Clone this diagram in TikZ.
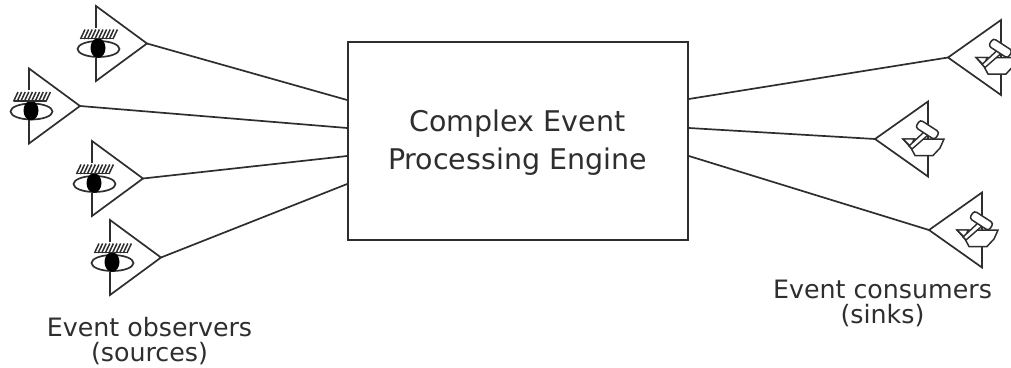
\documentclass[tikz,border=0pt]{standalone}
\usepackage{fontspec}
\setmainfont{DejaVu Sans}
\definecolor{ink}{HTML}{2E2E2E}
\tikzset{
  x=1pt,y=-1pt,
  wire/.style={draw=ink,line width=1.7pt},
  engine/.style={draw=ink,line width=1.7pt,minimum width=340pt,minimum height=198pt,inner sep=0pt},
  enginetext/.style={align=center,inner sep=0pt,font=\fontsize{28.5}{38}\selectfont,text=ink},
  caption/.style={align=center,inner sep=0pt,font=\fontsize{25.3}{25}\selectfont,text=ink},
  eye/.pic={
    \draw[wire,line join=miter] (0,-37.5) -- (0,37.5) -- (51,0) -- cycle;
    \coordinate (-tip) at (51,0);
    \fill[white] (-3,-16) rectangle (3,14);
    \draw[draw=ink,line width=1.7pt,fill=white] (2.5,5.5) ellipse [x radius=21,y radius=8];
    \fill[black] (2,4.5) ellipse [x radius=7.5,y radius=9.8];
    \draw[ink,line width=1.5pt] (-15,-5) -- (17,-5);
    \foreach \s in {0,...,9}{
      \draw[ink,line width=1.5pt] ({-15.5+3.6*\s},-4.5) -- ({-11+3.6*\s},-14);
    }
  },
  cup/.pic={
    \draw[wire,line join=miter] (0,-37.5) -- (0,37.5) -- (-53,0) -- cycle;
    \coordinate (-tip) at (-53,0);
    \draw[draw=ink,line width=1.5pt,fill=white] (-25,0) -- (16,0) -- (12,9) -- (5,16.5) -- (-13,16.5) -- (-17,9) -- cycle;
    \draw[draw=ink,line width=1.4pt,fill=white] (-25,0) -- (-14,0) -- (-17,8) -- cycle;
    \draw[draw=ink,line width=1.4pt,fill=white] (-4,-7) -- (-19,7) -- (-16,10) -- (0,-4) -- cycle;
    \draw[draw=ink,line width=1.5pt,fill=white,rounded corners=3pt,rotate around={-33:(-1,-9.5)}] (-12,-5) rectangle (11,-14);
  },
}
\begin{document}
\begin{tikzpicture}
\useasboundingbox (0,0) rectangle (1011,367);
\node[engine] (box) at (518,141) {};
\node[enginetext] (boxtext) at (517.5,143) {Complex Event\\Processing Engine};
\pic (e1) at (96,43.5) {eye};
\pic (e2) at (29,106) {eye};
\pic (e3) at (92,178.5) {eye};
\pic (e4) at (110,257.5) {eye};
\pic (c1) at (1001,57.5) {cup};
\pic (c2) at (928,139) {cup};
\pic (c3) at (982,230) {cup};
\coordinate (l1) at (box.west |- 0,100);
\coordinate (l2) at (box.west |- 0,128);
\coordinate (l3) at (box.west |- 0,156);
\coordinate (l4) at (box.west |- 0,184);
\coordinate (r1) at (box.east |- 0,99);
\coordinate (r2) at (box.east |- 0,128);
\coordinate (r3) at (box.east |- 0,156);
\draw[wire] (e1-tip) -- (l1);
\draw[wire] (e2-tip) -- (l2);
\draw[wire] (e3-tip) -- (l3);
\draw[wire] (e4-tip) -- (l4);
\draw[wire] (r1) -- (c1-tip);
\draw[wire] (r2) -- (c2-tip);
\draw[wire] (r3) -- (c3-tip);
\node[caption] (obs) at (149.5,341) {Event observers\\(sources)};
\node[caption] (con) at (882.5,303.5) {Event consumers\\(sinks)};
\end{tikzpicture}
\end{document}
